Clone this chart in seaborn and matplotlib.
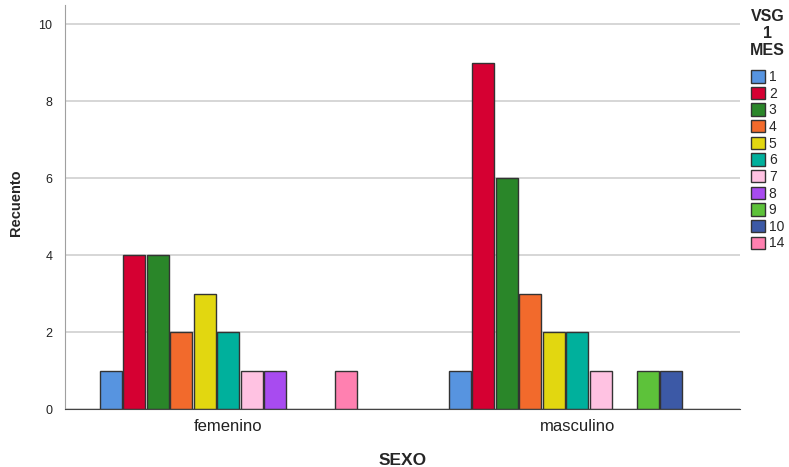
import numpy as np
import pandas as pd

import matplotlib
matplotlib.use('Agg')
import matplotlib.pyplot as plt
import seaborn as sns

sexo = ['femenino', 'masculino']
vsg_levels = ['1', '2', '3', '4', '5', '6', '7', '8', '9', '10', '14']

femenino_vsg = ['1', '2', '3', '4', '5', '6', '7', '8', '14']
femenino_counts = [1, 4, 4, 2, 3, 2, 1, 1, 1]

masculino_vsg = ['1', '2', '3', '4', '5', '6', '7', '9', '10']
masculino_counts = [1, 9, 6, 3, 2, 2, 1, 1, 1]

colors = ['#5794E0', '#D50032', '#2A8629', '#F26A2C', '#E2D710', '#00B09C',
          '#FFC2E2', '#A84BF0', '#5DC23A', '#3C59A6', '#FF80B0']

rows = []
for v, c in zip(femenino_vsg, femenino_counts):
    rows.append(['femenino', v, c])
for v, c in zip(masculino_vsg, masculino_counts):
    rows.append(['masculino', v, c])
df = pd.DataFrame(rows, columns=['SEXO', 'VSG', 'Recuento'])

sns.set_style('white')
plt.rcParams['font.family'] = ['Liberation Sans', 'DejaVu Sans']

fig = plt.figure(figsize=(7.89, 4.67), dpi=100)
ax = fig.add_axes([65 / 789, 58 / 467, 675 / 789, 404 / 467])

ax.yaxis.grid(True, color='#d6d6d6', linewidth=1.4)
ax.set_axisbelow(True)

sns.barplot(
    data=df,
    x='SEXO',
    y='Recuento',
    hue='VSG',
    order=sexo,
    hue_order=vsg_levels,
    palette=colors,
    saturation=1,
    width=0.741,
    gap=0.06,
    edgecolor='#333333',
    linewidth=1.0,
    ax=ax
)

ax.set_xlim(-0.468, 1.466)
ax.set_ylim(0, 10.5)
ax.set_yticks([0, 2, 4, 6, 8, 10])

ax.tick_params(axis='both', length=0)
ax.tick_params(axis='y', labelsize=9, colors='#222222', pad=9)
ax.tick_params(axis='x', labelsize=12, colors='#222222', pad=7)

for s in ['top', 'right']:
    ax.spines[s].set_visible(False)
ax.spines['left'].set_color('#a0a0a0')
ax.spines['bottom'].set_color('#444444')

ax.set_xlabel('SEXO', fontsize=12.5, fontweight='bold', labelpad=14)
ax.set_ylabel('Recuento', fontsize=10.5, fontweight='bold')
ax.yaxis.set_label_coords(-0.062, 0.51)

handles, labels = ax.get_legend_handles_labels()
ax.get_legend().remove()
leg = fig.legend(
    handles,
    labels,
    title='VSG\n1\nMES',
    loc='upper left',
    bbox_to_anchor=(750 / 789, 1 - 9 / 467),
    frameon=False,
    fontsize=10,
    handlelength=1.0,
    handleheight=1.0,
    handletextpad=0.3,
    labelspacing=0.19,
    borderaxespad=0,
    borderpad=0
)
leg.get_title().set_fontweight('bold')
leg.get_title().set_fontsize(11.5)
leg.get_title().set_linespacing(1.15)
leg.get_title().set_multialignment('center')
leg._legend_box.align = 'center'
leg._legend_box.sep = 9

fig.savefig('out.png', dpi=100)
plt.close(fig)
